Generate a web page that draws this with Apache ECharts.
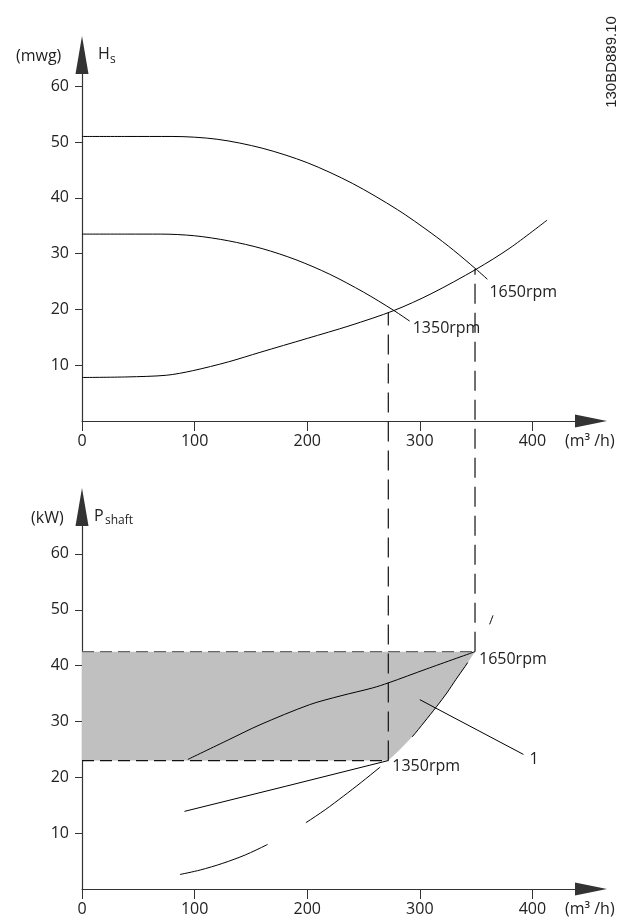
<!DOCTYPE html>
<html>
<head>
<meta charset="utf-8">
<script src="https://cdn.jsdelivr.net/npm/echarts@6/dist/echarts.min.js"></script>
<style>
  html, body { margin: 0; padding: 0; background: #fff; }
  #chart { width: 623px; height: 923px; }
</style>
</head>
<body>
<div id="chart"></div>
<script>
// axes
const flowTicks = [0, 100, 200, 300, 400]
const headTicks = [10, 20, 30, 40, 50, 60]
const powerTicks = [10, 20, 30, 40, 50, 60]
const flowMax = 452
const headMax = 65.6
const powerMax = 68.4

// head curves (m3/h -> mwg)
const systemFlow = [0, 40, 75, 98, 130, 158, 200, 238, 277, 310, 350, 380, 413]
const systemHead = [7.8, 7.9, 8.2, 9.0, 10.6, 12.3, 14.8, 17.1, 19.8, 22.8, 27.2, 31.0, 36.0]
const head1650Flow = [0, 40, 80, 120, 160, 200, 240, 280, 310, 330, 350, 360]
const head1650 = [51, 51, 51, 50.5, 48.9, 46.3, 42.6, 37.9, 33.7, 30.6, 27.2, 25.4]
const head1350Flow = [0, 40, 70, 100, 130, 160, 190, 220, 250, 277, 291]
const head1350 = [33.5, 33.5, 33.5, 33.2, 32.3, 30.9, 28.9, 26.3, 23.1, 19.8, 17.9]

// shaft power (m3/h -> kW)
const loadFlow = [87, 105, 125, 145, 164, 182, 199, 216, 232, 248, 264, 272, 283, 293, 304, 315, 324, 332, 340, 349, 357, 365]
const loadPower = [2.6, 3.4, 4.6, 6.1, 7.9, 9.8, 11.9, 14.2, 16.6, 19.1, 21.7, 23.0, 25.1, 27.2, 29.9, 32.7, 35.1, 37.5, 39.8, 42.5, 45.0, 49.0]
const power1650Flow = [94, 130, 158, 202, 230, 258, 272, 306, 349]
const power1650 = [23.2, 26.7, 29.4, 33.0, 34.6, 36.0, 36.9, 39.4, 42.5]
const power1350Flow = [91, 181, 272]
const power1350 = [13.9, 18.4, 23.0]

// operating points
const opFlow = [272, 349]
const opPower = [23.0, 42.5]
const opHeadTop = [103.2, 111.0]   // where the drop lines start, in kW units
const leaderFlow = [300, 392]
const leaderPower = [33.9, 24.1]

const zip = (xs, ys) => xs.map((x, i) => [x, ys[i]])

const shade = [[0, opPower[1]]]
  .concat(zip(loadFlow, loadPower).filter(p => p[0] >= opFlow[0] && p[0] <= opFlow[1]).reverse())
  .concat([[0, opPower[0]]])

const font = 'Open Sans'
const ink = '#222'

function xAxis(gridIndex) {
  return {
    type: 'value', gridIndex, min: 0, max: flowMax,
    axisLine: { show: true, onZero: false, symbol: ['none', 'triangle'], symbolSize: [13, 32], lineStyle: { color: '#333', width: 1.2 } },
    axisTick: { show: true, length: 10, customValues: flowTicks, lineStyle: { color: '#333' } },
    axisLabel: { customValues: flowTicks, margin: 12, fontSize: 16, fontFamily: font, color: ink },
    splitLine: { show: false },
  }
}
function yAxis(gridIndex, max, ticks) {
  return {
    type: 'value', gridIndex, min: 0, max,
    axisLine: { show: true, onZero: false, symbol: ['none', 'triangle'], symbolSize: [13, 38], lineStyle: { color: '#333', width: 1.2 } },
    axisTick: { show: true, length: 7, customValues: ticks, lineStyle: { color: '#333' } },
    axisLabel: { customValues: ticks, margin: 13, fontSize: 16, fontFamily: font, color: ink },
    splitLine: { show: false },
  }
}

function curve(xs, ys, grid, extra) {
  return Object.assign({
    type: 'line', xAxisIndex: grid, yAxisIndex: grid,
    data: zip(xs, ys), symbol: 'none', smooth: 0.3, z: 3,
    lineStyle: { color: '#000', width: 1 },
  }, extra || {})
}
function endText(text, offset) {
  return { show: true, formatter: text, distance: 0, offset, fontSize: 16, fontFamily: font, color: ink }
}
function dashed(points, color, dash, extra) {
  return Object.assign({
    type: 'line', xAxisIndex: 1, yAxisIndex: 1, data: points, symbol: 'none', z: 2,
    lineStyle: { color, width: 1.2, type: dash },
  }, extra || {})
}

const chart = echarts.init(document.getElementById('chart'))
chart.setOption({
  animation: false,
  grid: [
    { left: 82, top: 55, width: 509, height: 366, outerBoundsMode: 'none' },
    { left: 82, top: 507, width: 509, height: 382, outerBoundsMode: 'none' },
  ],
  xAxis: [xAxis(0), xAxis(1)],
  yAxis: [yAxis(0, headMax, headTicks), yAxis(1, powerMax, powerTicks)],
  series: [
    curve(systemFlow, systemHead, 0),
    curve(head1650Flow, head1650, 0, { endLabel: endText('1650rpm', [2, 13]) }),
    curve(head1350Flow, head1350, 0, { endLabel: endText('1350rpm', [3, 7]) }),
    {
      type: 'custom', xAxisIndex: 1, yAxisIndex: 1, z: 1, silent: true,
      data: shade,
      renderItem: (params, api) => {
        if (params.dataIndex !== 0) return
        return { type: 'polygon', shape: { points: shade.map(p => api.coord(p)) }, style: { fill: '#c0c0c0' } }
      },
    },
    dashed([[0, opPower[1]], [opFlow[1], opPower[1]]], '#666', [12, 6]),
    dashed([[0, opPower[0]], [opFlow[0], opPower[0]]], '#111', [12, 6]),
    dashed([[opFlow[0], opPower[0]], [opFlow[0], opHeadTop[0]]], '#111', [20, 9], { clip: false }),
    dashed([[opFlow[1], opPower[1]], [opFlow[1], opHeadTop[1]]], '#111', [20, 9], { clip: false }),
    curve(loadFlow, loadPower, 1, { lineStyle: { color: '#000', width: 1, type: [93, 44] } }),
    curve(power1650Flow, power1650, 1, { endLabel: endText('1650rpm', [4, 8]) }),
    curve(power1350Flow, power1350, 1, { smooth: false, endLabel: endText('1350rpm', [4, 6]) }),
    curve(leaderFlow, leaderPower, 1, { smooth: false, endLabel: endText('1', [6, 5]) }),
  ],
  graphic: [
    { type: 'text', x: 16, y: 56, style: { text: '(mwg)', fontSize: 16, fontFamily: font, fill: ink, verticalAlign: 'middle' } },
    { type: 'text', x: 98, y: 54, style: { text: 'H', fontSize: 16, fontFamily: font, fill: ink, verticalAlign: 'middle' } },
    { type: 'text', x: 110, y: 60, style: { text: 's', fontSize: 12, fontFamily: font, fill: ink, verticalAlign: 'middle' } },
    { type: 'text', x: 31, y: 518, style: { text: '(kW)', fontSize: 16, fontFamily: font, fill: ink, verticalAlign: 'middle' } },
    { type: 'text', x: 94, y: 516, style: { text: 'P', fontSize: 16, fontFamily: font, fill: ink, verticalAlign: 'middle' } },
    { type: 'text', x: 105, y: 521, style: { text: 'shaft', fontSize: 12, fontFamily: font, fill: ink, verticalAlign: 'middle' } },
    { type: 'text', x: 565, y: 441, style: { text: '(m³ /h)', fontSize: 16, fontFamily: font, fill: ink, verticalAlign: 'middle' } },
    { type: 'text', x: 565, y: 909, style: { text: '(m³ /h)', fontSize: 16, fontFamily: font, fill: ink, verticalAlign: 'middle' } },
    { type: 'text', x: 612, y: 62, rotation: Math.PI / 2, style: { text: '130BD889.10', fontSize: 15, fontFamily: 'Liberation Sans', fill: ink, align: 'center', verticalAlign: 'middle' } },
  ],
})
</script>
</body>
</html>
